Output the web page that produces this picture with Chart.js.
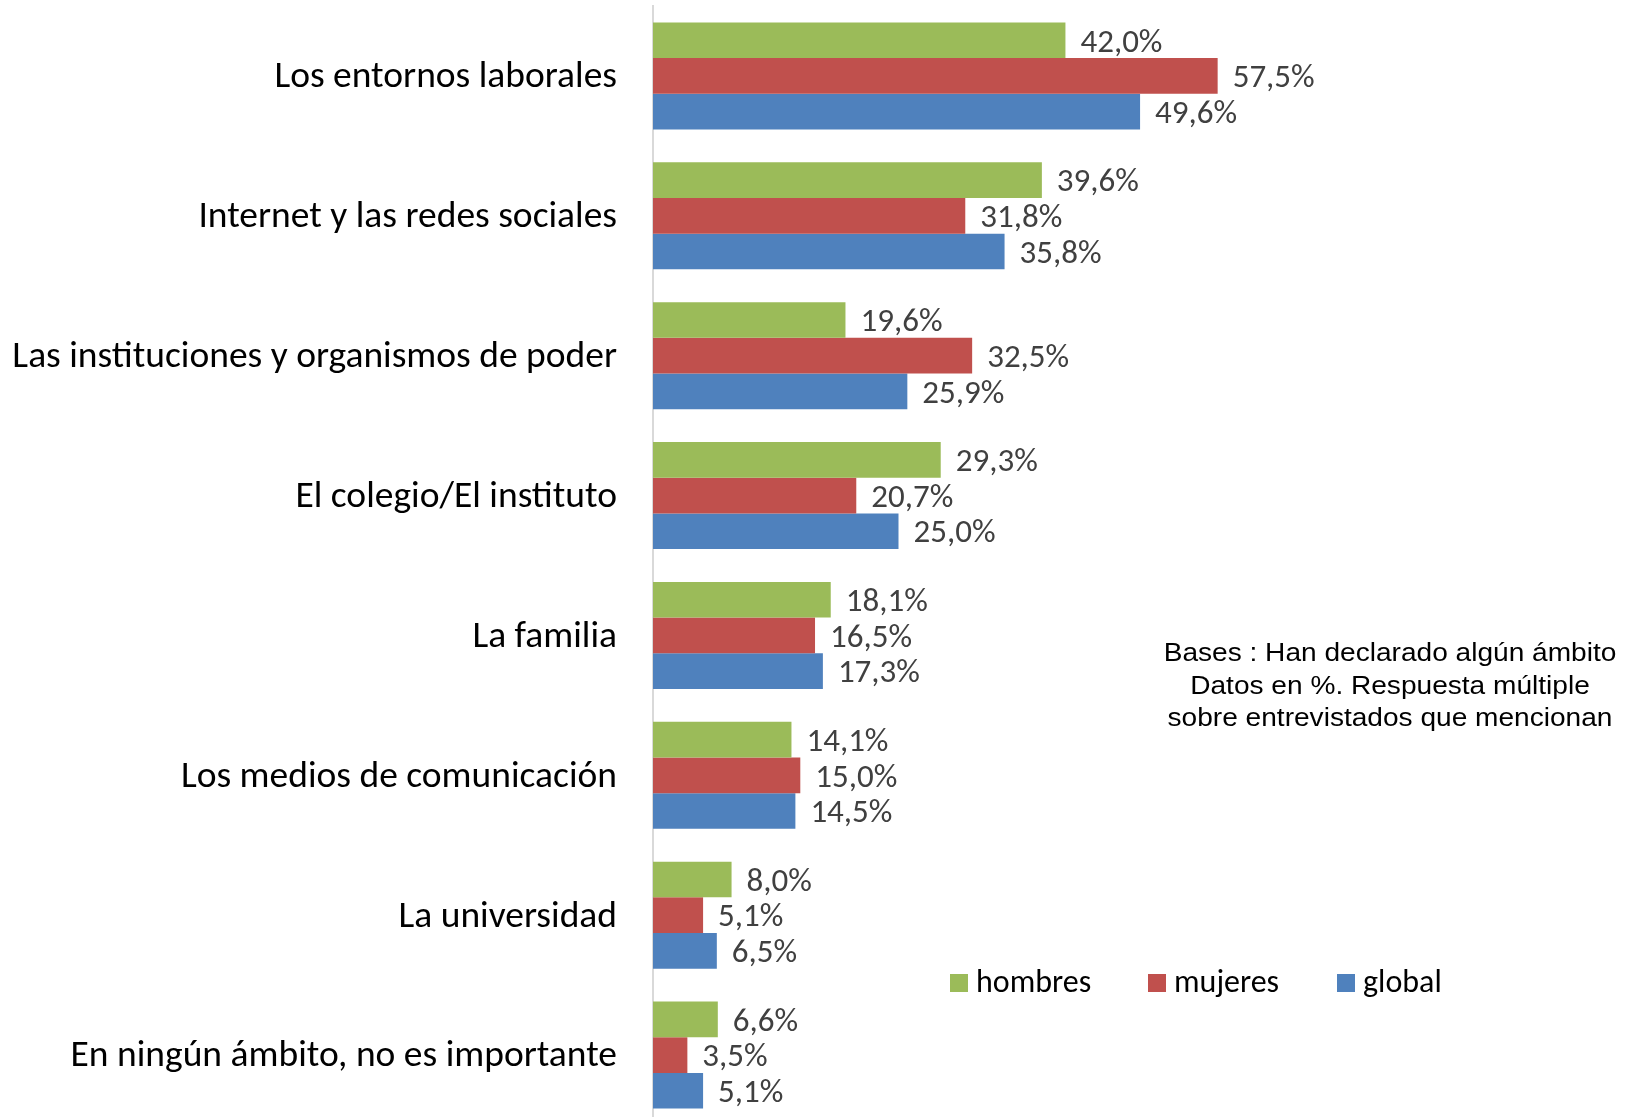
<!DOCTYPE html>
<html>
<head>
<meta charset="utf-8">
<script src="https://cdn.jsdelivr.net/npm/chart.js@4"></script>
<style>
  html, body { margin: 0; padding: 0; background: #fff; overflow: hidden; }
  #caja { position: relative; width: 1635px; height: 1126px; }
</style>
</head>
<body>
<div id="caja"><canvas id="miGrafico"></canvas></div>
<script>
// Datos del gráfico
const ambitos = [
    'Los entornos laborales',
    'Internet y las redes sociales',
    'Las instituciones y organismos de poder',
    'El colegio/El instituto',
    'La familia',
    'Los medios de comunicación',
    'La universidad',
    'En ningún ámbito, no es importante'
];
const hombres = [42.0, 39.6, 19.6, 29.3, 18.1, 14.1, 8.0, 6.6];
const mujeres = [57.5, 31.8, 32.5, 20.7, 16.5, 15.0, 5.1, 3.5];
const global = [49.6, 35.8, 25.9, 25.0, 17.3, 14.5, 6.5, 5.1];
const nota = [
    'Bases : Han declarado algún ámbito',
    'Datos en %. Respuesta múltiple',
    'sobre entrevistados que mencionan'
];

const fuente = 'Carlito, Calibri, Lato, sans-serif';

// Etiquetas de valor al final de cada barra
const etiquetas = {
    id: 'etiquetas',
    afterDatasetsDraw(chart) {
        const ctx = chart.ctx;
        ctx.save();
        ctx.font = '33px ' + fuente;
        ctx.fillStyle = '#404040';
        ctx.textAlign = 'left';
        ctx.textBaseline = 'middle';
        chart.data.datasets.forEach((ds, i) => {
            chart.getDatasetMeta(i).data.forEach((bar, j) => {
                const txt = ds.data[j].toFixed(1).replace('.', ',') + '%';
                ctx.fillText(txt, bar.x + 15, bar.y + 3);
            });
        });
        ctx.restore();
    }
};

// Leyenda y nota dentro del área
const extras = {
    id: 'extras',
    afterDraw(chart) {
        const ctx = chart.ctx;
        ctx.save();
        const xs = [950, 1148, 1337];
        ctx.font = '32px ' + fuente;
        ctx.textBaseline = 'middle';
        ctx.textAlign = 'left';
        chart.data.datasets.forEach((ds, i) => {
            ctx.fillStyle = ds.backgroundColor;
            ctx.fillRect(xs[i], 974, 18, 18);
            ctx.fillStyle = '#000';
            ctx.fillText(ds.label, xs[i] + 26, 984);
        });
        // la nota va algo estirada a lo ancho, como en el original
        ctx.font = '26px "Liberation Sans", Arial, sans-serif';
        ctx.textAlign = 'center';
        ctx.translate(1390, 0);
        ctx.scale(1.08, 1);
        nota.forEach((linea, k) => {
            ctx.fillText(linea, 0, 654 + k * 32.5);
        });
        ctx.restore();
    }
};

const ctx = document.getElementById('miGrafico').getContext('2d');
const miGrafico = new Chart(ctx, {
    type: 'bar',
    data: {
        labels: ambitos,
        datasets: [
            { label: 'hombres', data: hombres, backgroundColor: '#9BBB59' },
            { label: 'mujeres', data: mujeres, backgroundColor: '#C0504D' },
            { label: 'global', data: global, backgroundColor: '#4F81BD' }
        ]
    },
    options: {
        indexAxis: 'y',
        responsive: true,
        maintainAspectRatio: false,
        animation: false,
        layout: { padding: { top: 6, bottom: 1, left: 0, right: 0 } },
        datasets: { bar: { categoryPercentage: 0.765, barPercentage: 1 } },
        plugins: { legend: { display: false }, tooltip: { enabled: false } },
        scales: {
            x: { display: false, min: 0, max: 100 },
            y: {
                afterFit(scale) {
                    scale.width = 653;
                    scale.paddingTop = 0;
                    scale.paddingBottom = 0;
                },
                grid: { display: false, drawTicks: false },
                border: { display: true, color: '#D9D9D9', width: 2 },
                ticks: { color: '#000', padding: 36, labelOffset: 2, font: { family: fuente, size: 37.5 } }
            }
        }
    },
    plugins: [etiquetas, extras]
});
</script>
</body>
</html>
